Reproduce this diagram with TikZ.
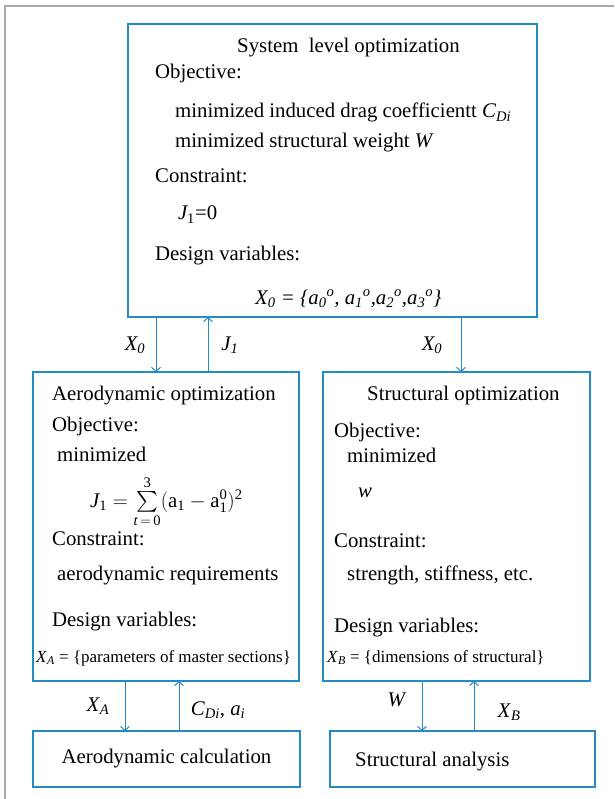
\documentclass[tikz,border=0pt]{standalone}
\usepackage{fontspec}
\usepackage{amsmath}
\setmainfont{Liberation Serif}
\usetikzlibrary{arrows.meta}
\definecolor{lineblue}{RGB}{38,138,196}
\definecolor{framegray}{RGB}{170,170,170}
\newcommand{\mainsz}{\fontsize{20.8}{24}\selectfont}
\newcommand{\smallsz}{\fontsize{17}{20}\selectfont}
\newcommand{\ital}[1]{\textit{#1}}
\begin{document}
\begin{tikzpicture}[x=1pt,y=-1pt,
  box/.style={draw=lineblue, line width=1.4pt, inner sep=0pt, outer sep=0pt, rectangle},
  txt/.style={anchor=base west, inner sep=0pt, font=\mainsz},
  stxt/.style={anchor=base west, inner sep=0pt, font=\smallsz},
  lbl/.style={inner sep=0pt, font=\mainsz},
  flow/.style={draw=lineblue, line width=1pt, -{Straight Barb[length=4pt,width=9pt]}}]
\path[use as bounding box, fill=white] (0,0) rectangle (614,799);
\draw[framegray, line width=1.6pt] (5,799) -- (5,6) -- (614,6);

% boxes
\node[box, minimum width=409pt, minimum height=293pt] (sys) at (332.5,170.5) {};
\node[box, minimum width=266pt, minimum height=309pt] (aero) at (166,526.5) {};
\node[box, minimum width=267pt, minimum height=309pt] (struc) at (456.5,526.5) {};
\node[box, minimum width=267pt, minimum height=56pt] (acalc) at (166.5,759) {};
\node[box, minimum width=265pt, minimum height=56pt] (sana) at (462.5,759) {};

% system box text
\node[txt] (s1) at (237,53) {System\ \ level optimization};
\node[txt] (s2) at (155,79) {Objective:};
\node[txt] (s3) at (175,118) {minimized induced drag coefficientt \ital{C}\textsubscript{\ital{Di}}};
\node[txt] (s4) at (175,148) {minimized structural weight \ital{W}};
\node[txt] (s5) at (155,183) {Constraint:};
\node[txt] (s6) at (178,220) {\ital{J}\kern-1pt\textsubscript{1}=0};
\node[txt] (s7) at (155,261) {Design variables:};
\node[txt] (s8) at (255,304) {\ital{X\textsubscript{0} = \{a\textsubscript{0}\textsuperscript{o}, a\textsubscript{1}\textsuperscript{o},a\textsubscript{2}\textsuperscript{o},a\textsubscript{3}\textsuperscript{o}\}}};

% aero box text
\node[txt] (a1) at (52,400) {Aerodynamic optimization};
\node[txt] (a2) at (52,431) {Objective:};
\node[txt] (a3) at (57,461) {minimized};
\node[txt] (a4) at (90,507) {$\textit{J}_{\text{1}} = \sum\limits_{\textit{t}\,=\,\text{0}}^{\text{3}}(\text{a}_{\text{1}} - \text{a}_{\text{1}}^{\text{0}})^{\text{2}}$};
\node[txt] (a5) at (52,545) {Constraint:};
\node[txt] (a6) at (57,580) {aerodynamic requirements};
\node[txt] (a7) at (52,626) {Design variables:};
\node[stxt] (a8) at (36,662) {\ital{X}\textsubscript{\ital{A}} = \{parameters of master sections\}};

% structural box text
\node[txt] (b1) at (367,400) {Structural optimization};
\node[txt] (b2) at (334,437) {Objective:};
\node[txt] (b3) at (347,462) {minimized};
\node[txt] (b4) at (358,497) {\ital{w}};
\node[txt] (b5) at (334,547) {Constraint:};
\node[txt] (b6) at (347,580) {strength, stiffness, etc.};
\node[txt] (b7) at (334,632) {Design variables:};
\node[stxt] (b8) at (327,662) {\ital{X}\textsubscript{\ital{B}} = \{dimensions of structural\}};

% bottom box text
\node[lbl] (c1) at (acalc.center) {Aerodynamic calculation};
\node[txt] (c2) at (355,766) {Structural analysis};

% connector x positions
\coordinate (x1) at (156,0);
\coordinate (x2) at (208,0);
\coordinate (x3) at (461,0);
\coordinate (x4) at (125,0);
\coordinate (x5) at (179,0);
\coordinate (x6) at (422,0);
\coordinate (x7) at (474,0);

\draw[flow] (sys.south -| x1) -- (aero.north -| x1);
\draw[flow] (aero.north -| x2) -- (sys.south -| x2);
\draw[flow] (sys.south -| x3) -- (struc.north -| x3);
\draw[flow] (aero.south -| x4) -- (acalc.north -| x4);
\draw[flow] (acalc.north -| x5) -- (aero.south -| x5);
\draw[flow] (struc.south -| x6) -- (sana.north -| x6);
\draw[flow] (sana.north -| x7) -- (struc.south -| x7);

% connector labels
\node[lbl] (l1) at (135,345) {\ital{X\textsubscript{0}}};
\node[lbl] (l2) at (230,345) {\ital{J\textsubscript{1}}};
\node[lbl] (l3) at (432,345) {\ital{X\textsubscript{0}}};
\node[lbl] (l4) at (98,706) {\ital{X}\textsubscript{\ital{A}}};
\node[lbl] (l5) at (218,710) {\ital{C}\textsubscript{\ital{Di}}, \ital{a}\textsubscript{\ital{i}}};
\node[lbl] (l6) at (397,700) {\ital{W}};
\node[lbl] (l7) at (509,712) {\ital{X}\textsubscript{\ital{B}}};
\end{tikzpicture}
\end{document}
